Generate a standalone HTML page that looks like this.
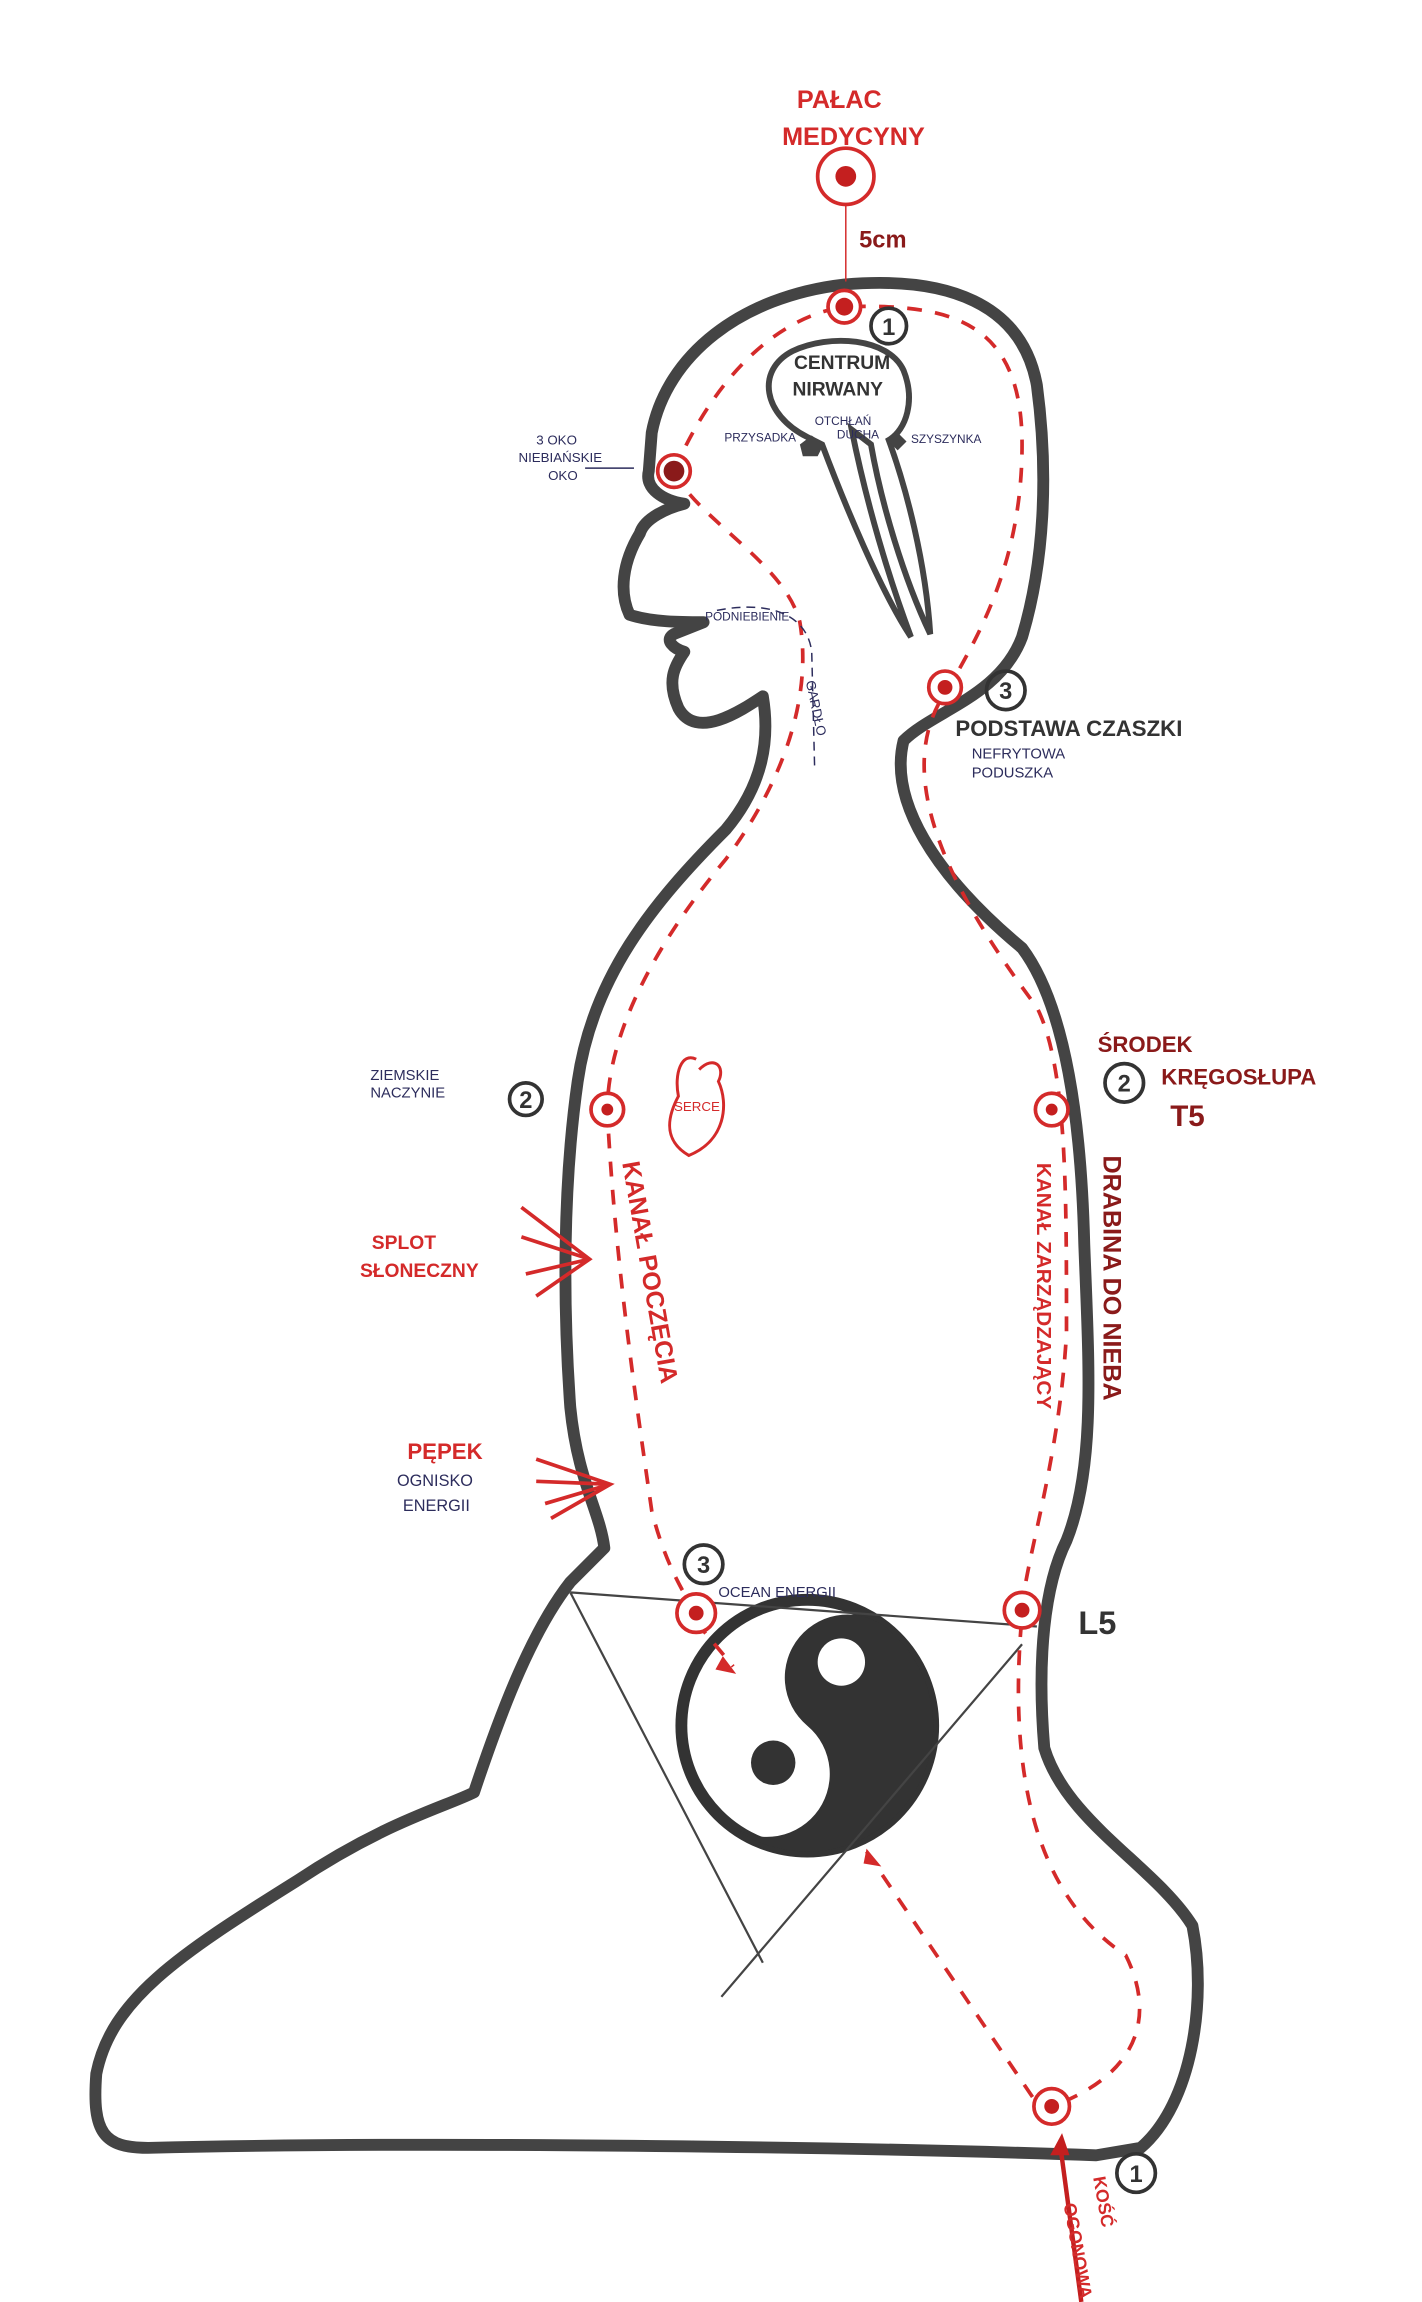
<!DOCTYPE html>
<html><head><meta charset="utf-8"><style>
html,body{margin:0;padding:0;background:#fff;}
svg{display:block;}
text{font-family:"Liberation Sans",sans-serif;}
.r{fill:#d42a2a;font-weight:bold;}
.b{fill:#2c2c5c;}
.k{fill:#333;font-weight:bold;}
</style></head><body>
<svg width="1422" height="2302" viewBox="0 0 960 1554" xmlns="http://www.w3.org/2000/svg">
<rect width="960" height="1554" fill="#fff"/>
<path d="M440,292 C450,240 500,200 570,192 C640,186 690,205 700,260 C708,320 705,380 690,430 C675,470 630,480 610,500 C600,540 630,590 690,640 C720,680 730,760 732,840 C735,920 740,990 720,1040 C705,1070 700,1120 705,1180 C720,1230 780,1260 805,1300 C815,1350 805,1420 770,1450 L740,1455 C600,1450 300,1445 100,1450 C70,1450 62,1440 65,1400 C75,1350 120,1320 200,1270 C260,1230 300,1220 320,1210 C340,1150 360,1100 385,1068 L408,1045 C405,1020 390,1000 385,950 C380,880 380,800 390,730 C400,660 440,610 490,560 C515,530 520,500 515,470 C500,480 470,500 458,478 C450,460 455,450 462,440 C455,438 448,432 455,428 L475,420 C460,420 440,420 425,415 C418,400 420,380 432,360 C435,350 450,343 462,340 C448,338 435,330 438,318 Z" fill="none" stroke="#444" stroke-width="8" stroke-linejoin="round"/>
<path d="M545,295 C515,280 510,250 535,237 C560,225 600,228 610,250 C618,270 612,290 600,297 C612,330 625,380 628,428 C610,390 595,340 588,300 L575,290 C585,340 600,390 615,430 C595,400 570,340 555,300 Z" fill="none" stroke="#444" stroke-width="4"/>
<path d="M540,300 l8,-6 l8,6 l-4,8 l-10,0z M598,296 l8,-4 l6,6 l-6,6z" fill="#444"/>
<circle cx="545" cy="1165" r="85" fill="#fff" stroke="#333" stroke-width="8"/>
<g transform="rotate(40 545 1165) translate(0,2330) scale(1,-1)">
<path d="M545,1080 A85,85 0 0 1 545,1250 A42,42 0 0 1 545,1165 A42,42 0 0 0 545,1080 Z" fill="#333"/>
</g>
<circle cx="568" cy="1122" r="16" fill="#fff"/>
<circle cx="522" cy="1190" r="15" fill="#333"/>
<path d="M385,1075 L700,1098 M385,1075 L515,1325 M690,1110 L487,1348" stroke="#444" stroke-width="1.5" fill="none"/>
<g fill="none" stroke="#d42a2a" stroke-width="2.5" stroke-dasharray="10,9">
<path d="M455,318 C480,260 520,215 570,207 C640,205 690,215 690,300 C690,380 660,430 640,465 C600,520 640,600 700,680 C720,720 720,800 720,900 C715,990 690,1060 690,1090 C680,1200 700,1280 760,1320 C780,1360 770,1400 710,1422"/>
<path d="M455,318 C470,350 530,380 540,420 C550,480 520,540 490,580 C440,640 410,700 410,750 C415,850 430,950 440,1020 C450,1060 465,1080 470,1090"/>
<path d="M585,1250 L700,1420"/>
<path d="M470,1095 L495,1125"/>
</g>
<path d="M571,130 L571,190" stroke="#d42a2a" stroke-width="1" fill="none"/>
<path d="M484,412 C520,405 545,415 548,440 L550,520" stroke="#2c2c5c" stroke-width="1" stroke-dasharray="6,4" fill="none"/>
<g stroke="#d42a2a" stroke-width="2.5" fill="#fff">
<circle cx="571" cy="119" r="19"/><circle cx="570" cy="207" r="11"/><circle cx="455" cy="318" r="11"/>
<circle cx="638" cy="464" r="11"/><circle cx="410" cy="749" r="11"/><circle cx="710" cy="749" r="11"/>
<circle cx="470" cy="1089" r="13"/><circle cx="690" cy="1087" r="12"/><circle cx="710" cy="1422" r="12"/>
</g>
<g fill="#c41f1f">
<circle cx="571" cy="119" r="7"/><circle cx="570" cy="207" r="6"/><circle cx="455" cy="318" r="7" fill="#8a1a1a"/>
<circle cx="638" cy="464" r="5"/><circle cx="410" cy="749" r="4"/><circle cx="710" cy="749" r="4"/>
<circle cx="470" cy="1089" r="5"/><circle cx="690" cy="1087" r="5"/><circle cx="710" cy="1422" r="5"/>
</g>
<path d="M488,1118 l9,12 l-14,-3z M585,1248 l10,12 l-12,-2z" fill="#d42a2a"/>
<path d="M730,1554 L716,1450" stroke="#c41f1f" stroke-width="3"/><path d="M709,1455 l8,-15 l5,15z" fill="#c41f1f"/>
<path d="M470,715 C460,710 455,725 458,740 C450,755 448,770 465,780 C490,770 492,745 485,730 C490,720 482,712 472,722" fill="none" stroke="#d42a2a" stroke-width="2"/>
<text x="455" y="750" font-size="9" fill="#d42a2a">SERCE</text>
<path d="M352,815 L398,850 L362,875 M352,835 L398,850 M355,860 L398,850" stroke="#d42a2a" stroke-width="2.5" fill="none"/>
<path d="M362,985 L412,1002 L372,1025 M362,1000 L412,1002 M368,1015 L412,1002" stroke="#d42a2a" stroke-width="2.5" fill="none"/>
<g fill="none" stroke="#333" stroke-width="2.5">
<circle cx="600" cy="220" r="12"/><circle cx="679" cy="466" r="13"/><circle cx="355" cy="742" r="11"/>
<circle cx="759" cy="731" r="13"/><circle cx="475" cy="1056" r="13"/><circle cx="767" cy="1467" r="13"/>
</g>
<g class="k" font-size="16" text-anchor="middle">
<text x="600" y="226">1</text><text x="679" y="472">3</text><text x="355" y="748">2</text>
<text x="759" y="737">2</text><text x="475" y="1062">3</text><text x="767" y="1473">1</text>
</g>
<text class="r" x="538" y="73" font-size="17">PAŁAC</text>
<text class="r" x="528" y="98" font-size="17">MEDYCYNY</text>
<text x="580" y="167" font-size="16" font-weight="bold" fill="#8a1a1a">5cm</text>
<text class="k" x="536" y="249" font-size="13">CENTRUM</text>
<text class="k" x="535" y="267" font-size="13">NIRWANY</text>
<text class="b" x="489" y="298" font-size="8">PRZYSADKA</text>
<text class="b" x="550" y="287" font-size="8">OTCHŁAŃ</text>
<text class="b" x="565" y="296" font-size="8">DUCHA</text>
<text class="b" x="615" y="299" font-size="8">SZYSZYNKA</text>
<text class="b" x="362" y="300" font-size="9">3 OKO</text>
<text class="b" x="350" y="312" font-size="9">NIEBIAŃSKIE</text>
<text class="b" x="370" y="324" font-size="9">OKO</text>
<path d="M395,316 L428,316" stroke="#2c2c5c" stroke-width="1"/>
<text class="b" x="476" y="419" font-size="8">PODNIEBIENIE</text>
<text class="b" x="544" y="460" font-size="9" transform="rotate(78 544 460)">GARDŁO</text>
<text x="645" y="497" font-size="15" font-weight="bold" fill="#333">PODSTAWA CZASZKI</text>
<text class="b" x="656" y="512" font-size="10">NEFRYTOWA</text>
<text class="b" x="656" y="525" font-size="10">PODUSZKA</text>
<text class="b" x="250" y="729" font-size="10">ZIEMSKIE</text>
<text class="b" x="250" y="741" font-size="10">NACZYNIE</text>
<text x="741" y="710" font-size="15" font-weight="bold" fill="#8a1a1a">ŚRODEK</text>
<text x="784" y="732" font-size="15" font-weight="bold" fill="#8a1a1a">KRĘGOSŁUPA</text>
<text x="790" y="760" font-size="20" font-weight="bold" fill="#8a1a1a">T5</text>
<text class="r" x="251" y="843" font-size="13">SPLOT</text>
<text class="r" x="243" y="862" font-size="13">SŁONECZNY</text>
<text class="r" x="275" y="985" font-size="15">PĘPEK</text>
<text class="b" x="268" y="1003" font-size="11">OGNISKO</text>
<text class="b" x="272" y="1020" font-size="11">ENERGII</text>
<text class="r" x="420" y="785" font-size="17" transform="rotate(80 420 785)">KANAŁ POCZĘCIA</text>
<text class="r" x="700" y="785" font-size="14" transform="rotate(90 700 785)">KANAŁ ZARZĄDZAJĄCY</text>
<text x="745" y="780" font-size="17" font-weight="bold" fill="#8a1a1a" transform="rotate(90 745 780)">DRABINA DO NIEBA</text>
<text class="b" x="485" y="1078" font-size="10">OCEAN ENERGII</text>
<text x="728" y="1103" font-size="22" font-weight="bold" fill="#333">L5</text>
<text class="r" x="738" y="1470" font-size="12" transform="rotate(80 738 1470)">KOŚĆ</text>
<text class="r" x="718" y="1488" font-size="12" transform="rotate(80 718 1488)">OGONOWA</text>
</svg>
</body></html>
